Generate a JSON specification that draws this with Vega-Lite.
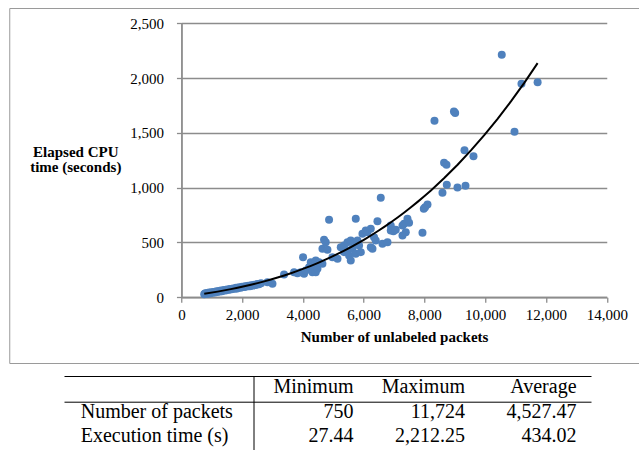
{
  "$schema": "https://vega.github.io/schema/vega-lite/v6.json",
  "padding": {"left": 8, "top": 7, "right": 0, "bottom": 0},
  "background": "white",
  "spacing": 12,
  "center": true,
  "config": {
    "font": "Liberation Serif",
    "view": {"stroke": null},
    "axis": {"labelFont": "Liberation Serif", "titleFont": "Liberation Serif"}
  },
  "datasets": {
    "points": [
      {"packets": 750, "seconds": 27.44}, {"packets": 770, "seconds": 32}, {"packets": 790, "seconds": 35},
      {"packets": 820, "seconds": 30}, {"packets": 850, "seconds": 38}, {"packets": 880, "seconds": 33},
      {"packets": 910, "seconds": 42}, {"packets": 930, "seconds": 36}, {"packets": 950, "seconds": 37},
      {"packets": 990, "seconds": 45}, {"packets": 1020, "seconds": 40}, {"packets": 1060, "seconds": 48},
      {"packets": 1100, "seconds": 44}, {"packets": 1120, "seconds": 49}, {"packets": 1140, "seconds": 52},
      {"packets": 1180, "seconds": 47}, {"packets": 1220, "seconds": 57}, {"packets": 1260, "seconds": 53},
      {"packets": 1300, "seconds": 61}, {"packets": 1330, "seconds": 55}, {"packets": 1350, "seconds": 58},
      {"packets": 1400, "seconds": 66}, {"packets": 1450, "seconds": 62}, {"packets": 1500, "seconds": 71},
      {"packets": 1550, "seconds": 67}, {"packets": 1580, "seconds": 70}, {"packets": 1600, "seconds": 75},
      {"packets": 1650, "seconds": 72}, {"packets": 1700, "seconds": 80}, {"packets": 1750, "seconds": 77},
      {"packets": 1800, "seconds": 86}, {"packets": 1820, "seconds": 79}, {"packets": 1850, "seconds": 82},
      {"packets": 1900, "seconds": 90}, {"packets": 1950, "seconds": 87}, {"packets": 2000, "seconds": 95},
      {"packets": 2050, "seconds": 92}, {"packets": 2080, "seconds": 96}, {"packets": 2100, "seconds": 100},
      {"packets": 2150, "seconds": 97}, {"packets": 2200, "seconds": 105}, {"packets": 2250, "seconds": 101},
      {"packets": 2280, "seconds": 104}, {"packets": 2300, "seconds": 109}, {"packets": 2350, "seconds": 106},
      {"packets": 2400, "seconds": 114}, {"packets": 2450, "seconds": 111}, {"packets": 2500, "seconds": 120},
      {"packets": 2550, "seconds": 118}, {"packets": 2620, "seconds": 127},
      {"packets": 2831, "seconds": 137}, {"packets": 2996, "seconds": 122}, {"packets": 3378, "seconds": 207},
      {"packets": 3707, "seconds": 228}, {"packets": 3819, "seconds": 219}, {"packets": 3927, "seconds": 228},
      {"packets": 4003, "seconds": 365}, {"packets": 4036, "seconds": 213}, {"packets": 4092, "seconds": 244},
      {"packets": 4201, "seconds": 274}, {"packets": 4257, "seconds": 319}, {"packets": 4312, "seconds": 228},
      {"packets": 4365, "seconds": 289}, {"packets": 4421, "seconds": 335}, {"packets": 4421, "seconds": 228},
      {"packets": 4477, "seconds": 259}, {"packets": 4530, "seconds": 319}, {"packets": 4641, "seconds": 305},
      {"packets": 4641, "seconds": 441}, {"packets": 4694, "seconds": 524}, {"packets": 4750, "seconds": 502},
      {"packets": 4806, "seconds": 432}, {"packets": 4859, "seconds": 706},
      {"packets": 4971, "seconds": 365}, {"packets": 5136, "seconds": 350}, {"packets": 5244, "seconds": 456},
      {"packets": 5353, "seconds": 472}, {"packets": 5353, "seconds": 411}, {"packets": 5465, "seconds": 502},
      {"packets": 5465, "seconds": 426}, {"packets": 5518, "seconds": 380}, {"packets": 5573, "seconds": 517},
      {"packets": 5573, "seconds": 335}, {"packets": 5629, "seconds": 441}, {"packets": 5682, "seconds": 487},
      {"packets": 5738, "seconds": 396}, {"packets": 5794, "seconds": 517}, {"packets": 5847, "seconds": 472},
      {"packets": 5903, "seconds": 411}, {"packets": 5958, "seconds": 578}, {"packets": 6067, "seconds": 609},
      {"packets": 6123, "seconds": 593}, {"packets": 6232, "seconds": 624}, {"packets": 6232, "seconds": 456},
      {"packets": 6288, "seconds": 441}, {"packets": 6340, "seconds": 547}, {"packets": 6396, "seconds": 517},
      {"packets": 6617, "seconds": 487}, {"packets": 6890, "seconds": 609}, {"packets": 6890, "seconds": 654},
      {"packets": 5738, "seconds": 715}, {"packets": 6452, "seconds": 693}, {"packets": 6561, "seconds": 907},
      {"packets": 6782, "seconds": 502}, {"packets": 6979, "seconds": 602}, {"packets": 7055, "seconds": 615},
      {"packets": 7276, "seconds": 654}, {"packets": 7328, "seconds": 670}, {"packets": 7440, "seconds": 715},
      {"packets": 7493, "seconds": 679}, {"packets": 7384, "seconds": 593}, {"packets": 7276, "seconds": 563},
      {"packets": 7934, "seconds": 588},
      {"packets": 7977, "seconds": 807}, {"packets": 8020, "seconds": 821}, {"packets": 8099, "seconds": 846},
      {"packets": 8329, "seconds": 1609}, {"packets": 8592, "seconds": 952}, {"packets": 8645, "seconds": 1226},
      {"packets": 8724, "seconds": 1208}, {"packets": 8734, "seconds": 1025}, {"packets": 8970, "seconds": 1695},
      {"packets": 9010, "seconds": 1680}, {"packets": 9086, "seconds": 1001}, {"packets": 9317, "seconds": 1341},
      {"packets": 9350, "seconds": 1016}, {"packets": 9613, "seconds": 1287}, {"packets": 10544, "seconds": 2212.25},
      {"packets": 10963, "seconds": 1509}, {"packets": 11193, "seconds": 1947}, {"packets": 11724, "seconds": 1962}
    ],
    "table": [
      {"row": "header", "col": "Minimum", "value": "Minimum"},
      {"row": "header", "col": "Maximum", "value": "Maximum"},
      {"row": "header", "col": "Average", "value": "Average"},
      {"row": "Number of packets", "col": "Minimum", "value": "750"},
      {"row": "Number of packets", "col": "Maximum", "value": "11,724"},
      {"row": "Number of packets", "col": "Average", "value": "4,527.47"},
      {"row": "Execution time (s)", "col": "Minimum", "value": "27.44"},
      {"row": "Execution time (s)", "col": "Maximum", "value": "2,212.25"},
      {"row": "Execution time (s)", "col": "Average", "value": "434.02"}
    ]
  },
  "vconcat": [
    {
      "width": 636,
      "height": 355,
      "view": {"stroke": "#9a9a9a", "strokeWidth": 1},
      "data": {"name": "points"},
      "layer": [
        {
          "mark": {"type": "circle", "size": 64, "color": "#4f81bd", "opacity": 1},
          "encoding": {
            "x": {
              "field": "packets", "type": "quantitative",
              "scale": {"domain": [0, 14000], "range": [172.2, 597.5], "nice": false, "zero": false},
              "axis": {
                "values": [0, 2000, 4000, 6000, 8000, 10000, 12000, 14000],
                "format": ",d", "offset": -65.8, "grid": false,
                "domainColor": "#8c8c8c", "domainWidth": 1.8,
                "tickColor": "#8c8c8c", "tickSize": 5, "tickWidth": 1.3,
                "labelFontSize": 15, "labelColor": "black", "labelPadding": 5,
                "labelFlush": false, "labelOverlap": false,
                "title": "Number of unlabeled packets",
                "titleFontSize": 15, "titleFontWeight": "bold", "titleColor": "black",
                "titleBaseline": "alphabetic", "titleY": 44
              }
            },
            "y": {
              "field": "seconds", "type": "quantitative",
              "scale": {"domain": [0, 2500], "range": [289.2, 15.2], "nice": false},
              "axis": {
                "values": [0, 500, 1000, 1500, 2000, 2500],
                "format": ",d", "offset": -172.2, "grid": true,
                "gridColor": "#8c8c8c", "gridWidth": 1.3,
                "domainColor": "#8c8c8c", "domainWidth": 1.8,
                "tickColor": "#8c8c8c", "tickSize": 5, "tickWidth": 1.3,
                "labelFontSize": 15, "labelColor": "black", "labelPadding": 13,
                "labelOverlap": false,
                "title": ["Elapsed CPU", "time (seconds)"],
                "titleAngle": 0, "titleAlign": "center", "titleBaseline": "alphabetic",
                "titleX": -106.2, "titleY": 148, "titleLineHeight": 15,
                "titleFontSize": 15, "titleFontWeight": "bold", "titleColor": "black"
              }
            }
          }
        },
        {
          "transform": [{"regression": "seconds", "on": "packets", "method": "poly", "order": 3}],
          "mark": {"type": "line", "color": "black", "strokeWidth": 2},
          "encoding": {
            "x": {"field": "packets", "type": "quantitative"},
            "y": {"field": "seconds", "type": "quantitative"}
          }
        }
      ]
    },
    {
      "width": 527,
      "height": 83,
      "data": {"name": "table"},
      "resolve": {"scale": {"x": "independent"}, "axis": {"x": "independent"}},
      "layer": [
        {
          "transform": [{"filter": "datum.row != 'header'"}],
          "mark": {"type": "text", "align": "right", "baseline": "alphabetic", "font": "Liberation Serif", "fontSize": 20, "color": "black"},
          "encoding": {
            "x": {
              "field": "col", "type": "nominal",
              "scale": {"type": "point", "domain": ["label", "Minimum", "Maximum", "Average"], "padding": 0.863, "align": 0.9247},
              "axis": {"orient": "top", "labels": false, "ticks": false, "grid": false, "title": null, "domainColor": "black", "domainWidth": 1}
            },
            "y": {
              "field": "row", "type": "nominal",
              "scale": {"type": "point", "domain": ["header", "Number of packets", "Execution time (s)"], "padding": 0.694},
              "axis": {
                "orient": "left", "offset": -189.5, "title": null, "ticks": false, "tickSize": 0, "grid": false,
                "domainColor": "black", "domainWidth": 1,
                "labelAlign": "left", "labelBaseline": "alphabetic", "labelPadding": 173.3,
                "labelFont": "Liberation Serif", "labelFontSize": 20, "labelColor": "black",
                "labelLimit": 0, "labelOverlap": false, "labelBound": false,
                "labelExpr": "datum.value == 'header' ? '' : datum.value"
              }
            },
            "text": {"field": "value", "type": "nominal"}
          }
        },
        {
          "transform": [{"filter": "datum.row == 'header'"}],
          "mark": {"type": "text", "align": "right", "baseline": "alphabetic", "font": "Liberation Serif", "fontSize": 20, "color": "black"},
          "encoding": {
            "x": {
              "field": "col", "type": "nominal",
              "scale": {"type": "point", "domain": ["label", "Minimum", "Maximum", "Average"], "padding": 0.863, "align": 0.9247},
              "axis": {"orient": "bottom", "offset": -57.3, "labels": false, "ticks": false, "grid": false, "title": null, "domainColor": "black", "domainWidth": 1}
            },
            "y": {"field": "row", "type": "nominal"},
            "text": {"field": "value", "type": "nominal"}
          }
        }
      ]
    }
  ]
}
